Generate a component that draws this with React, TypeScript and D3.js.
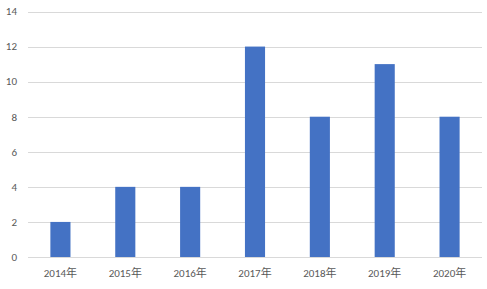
import React from "react";
import * as d3 from "d3";

const categories = ["2014年", "2015年", "2016年", "2017年", "2018年", "2019年", "2020年"];
const values = [2, 4, 4, 12, 8, 11, 8];
const yTicks = [0, 2, 4, 6, 8, 10, 12, 14];

const W = 487, H = 289;
const M = { left: 28, right: 5, top: 11.5, bottom: 32 };

export default function App() {
  const x = d3.scaleBand<string>().domain(categories).range([M.left, W - M.right]).paddingInner(0.69).paddingOuter(0.345);
  const y = d3.scaleLinear().domain([0, 14]).range([H - M.bottom, M.top]);
  const font = "Calibri, Carlito, 'Noto Sans CJK SC', 'Noto Sans', sans-serif";
  return (
    <svg width={W} height={H} style={{ position: "absolute", left: 0, top: 0 }}>
      <rect width={W} height={H} fill="#fff" />
      {yTicks.map(t => (
        <g key={t}>
          <line x1={M.left} x2={W - M.right} y1={Math.round(y(t)) + 0.5} y2={Math.round(y(t)) + 0.5} stroke="#d9d9d9" strokeWidth={1} />
          <text x={17} y={y(t)} dy="0.35em" textAnchor="end" fontSize={11} fill="#595959" fontFamily={font}>{t}</text>
        </g>
      ))}
      {categories.map((c, i) => (
        <rect key={c} x={x(c)} y={y(values[i])} width={x.bandwidth()} height={y(0) - y(values[i])} fill="#4472c4" />
      ))}
      {categories.map(c => (
        <text key={c} x={x(c)! + x.bandwidth() / 2} y={273} dy="0.35em" textAnchor="middle" fontSize={11} fill="#595959" fontFamily={font}>{c}</text>
      ))}
    </svg>
  );
}
